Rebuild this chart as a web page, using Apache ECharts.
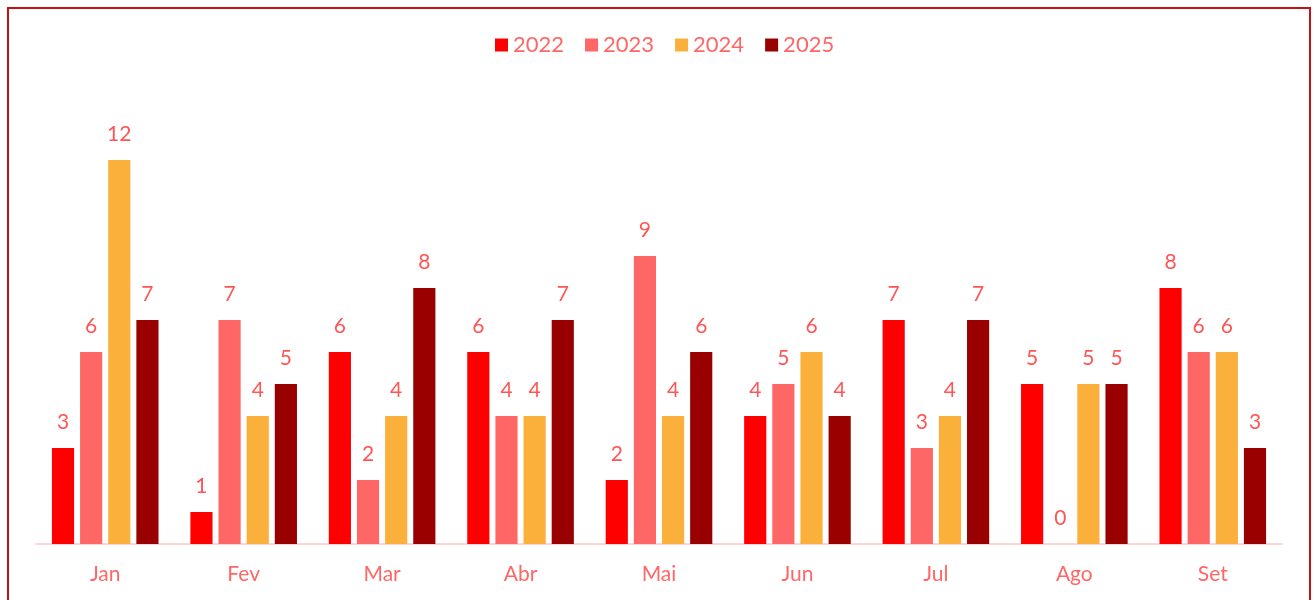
<!DOCTYPE html>
<html><head><meta charset="utf-8">
<script src="https://cdn.jsdelivr.net/npm/echarts@6/dist/echarts.min.js"></script>
<style>html,body{margin:0;padding:0;background:#fff}#c{width:1316px;height:600px}</style>
</head><body><div id="c"></div>
<script>
const categories = ['Jan','Fev','Mar','Abr','Mai','Jun','Jul','Ago','Set'];
const seriesNames = ['2022','2023','2024','2025'];
const v2022 = [3,1,6,6,2,4,7,5,8];
const v2023 = [6,7,2,4,9,5,3,0,6];
const v2024 = [12,4,4,4,4,6,4,5,6];
const v2025 = [7,5,8,7,6,4,7,5,3];
const values = [v2022, v2023, v2024, v2025];
const colors = ['#FF0000','#FF6666','#FBB03B','#990000'];
const font = 'Lato, "Noto Sans", sans-serif';
const chart = echarts.init(document.getElementById('c'));
chart.setOption({
  animation:false,
  color: colors,
  graphic:[{type:'rect', shape:{x:8,y:8,width:1302,height:640}, style:{fill:'none', stroke:'#C81010', lineWidth:2}, silent:true}],
  legend:{top:29, left:490, itemWidth:13, itemHeight:13, itemGap:21, icon:'rect',
    textStyle:{color:'#FF6666', fontSize:22, fontFamily:font}},
  grid:{left:36, right:34, top:160, bottom:56, containLabel:false},
  xAxis:{type:'category', data:categories,
    axisLine:{lineStyle:{color:'#FFD6D6', width:2}}, axisTick:{show:false},
    axisLabel:{color:'#FF6666', fontSize:21, fontFamily:font, margin:20}},
  yAxis:{type:'value', min:0, max:12, show:false, splitLine:{show:false}},
  series: seriesNames.map((n,i)=>({
    name:n, type:'bar', data:values[i], barGap:'27%', barCategoryGap:'23%',
    label:{show:true, position:'top', distance:15, color:'#FF5555', fontSize:21, fontFamily:font}
  }))
});
</script></body></html>
